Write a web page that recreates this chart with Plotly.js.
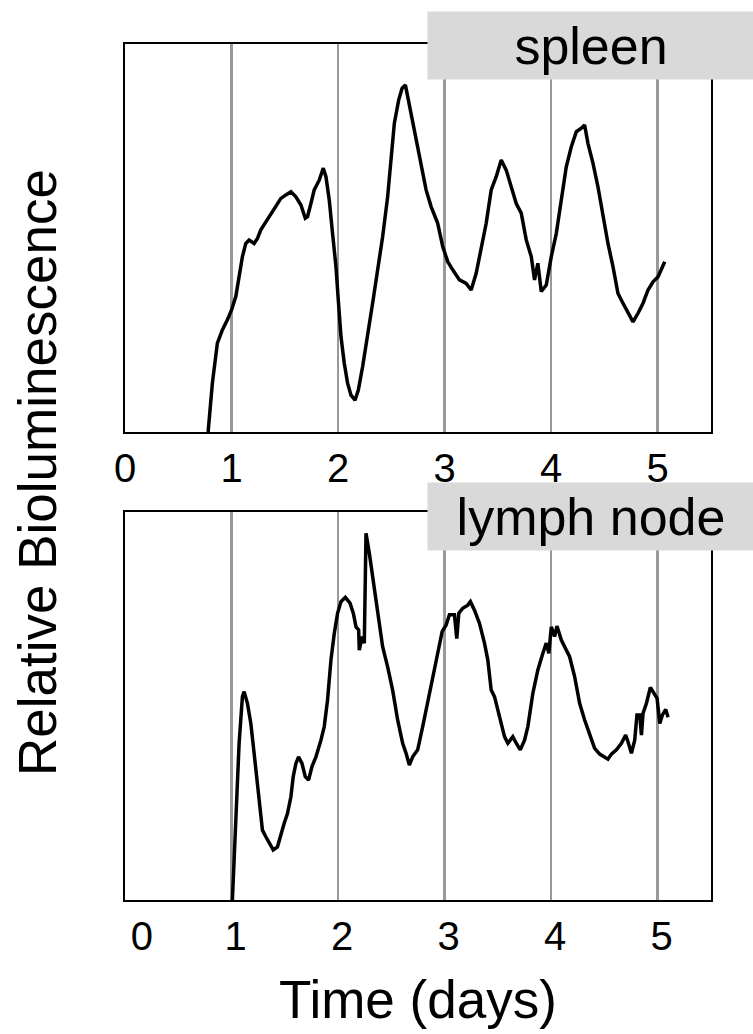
<!DOCTYPE html>
<html>
<head>
<meta charset="utf-8">
<script src="https://cdn.plot.ly/plotly-3.0.1.min.js"></script>
<style>html,body{margin:0;padding:0;background:#fff;}#chart{width:753px;height:1034px;}</style>
</head>
<body>
<div id="chart"></div>
<script>
// Time in days
var spleenTime = [0.780,0.820,0.867,0.914,0.961,0.999,1.040,1.071,1.102,1.134,1.165,1.212,1.243,1.275,1.322,1.369,1.416,1.463,1.510,1.557,1.604,1.651,1.692,1.713,1.745,1.776,1.823,1.861,1.886,1.917,1.948,1.980,2.002,2.027,2.058,2.089,2.121,2.159,2.190,2.230,2.324,2.371,2.418,2.465,2.497,2.528,2.569,2.601,2.632,2.653,2.685,2.732,2.779,2.826,2.873,2.935,2.982,3.029,3.076,3.139,3.202,3.249,3.296,3.343,3.390,3.437,3.484,3.531,3.578,3.625,3.672,3.719,3.766,3.813,3.844,3.875,3.907,3.954,4.001,4.048,4.095,4.142,4.189,4.236,4.283,4.314,4.345,4.392,4.439,4.486,4.533,4.580,4.627,4.674,4.721,4.768,4.815,4.862,4.909,4.956,5.003,5.066];
var spleenLum = [0.000,0.126,0.229,0.263,0.289,0.314,0.349,0.400,0.452,0.486,0.495,0.486,0.499,0.521,0.542,0.564,0.581,0.602,0.611,0.619,0.606,0.585,0.551,0.555,0.589,0.624,0.649,0.680,0.658,0.598,0.512,0.426,0.340,0.246,0.177,0.126,0.095,0.082,0.108,0.168,0.332,0.418,0.503,0.606,0.710,0.796,0.856,0.886,0.894,0.864,0.821,0.761,0.684,0.624,0.581,0.538,0.478,0.439,0.418,0.392,0.383,0.366,0.409,0.469,0.538,0.624,0.658,0.701,0.675,0.632,0.589,0.564,0.495,0.452,0.392,0.435,0.362,0.379,0.452,0.512,0.598,0.684,0.735,0.774,0.783,0.791,0.744,0.693,0.632,0.555,0.486,0.426,0.357,0.332,0.306,0.284,0.306,0.332,0.366,0.387,0.400,0.439];

var lymphTime = [1.008,1.040,1.071,1.102,1.118,1.149,1.181,1.212,1.243,1.275,1.290,1.322,1.353,1.391,1.431,1.463,1.494,1.525,1.557,1.579,1.604,1.629,1.661,1.692,1.723,1.755,1.792,1.839,1.870,1.901,1.933,1.964,1.995,2.027,2.068,2.112,2.143,2.168,2.193,2.199,2.225,2.246,2.262,2.293,2.324,2.340,2.371,2.418,2.465,2.512,2.559,2.606,2.638,2.669,2.700,2.747,2.794,2.841,2.888,2.935,2.977,3.014,3.045,3.092,3.114,3.133,3.170,3.217,3.242,3.280,3.327,3.374,3.405,3.437,3.468,3.515,3.562,3.593,3.640,3.672,3.710,3.750,3.781,3.828,3.875,3.922,3.954,3.978,4.001,4.032,4.054,4.095,4.126,4.173,4.220,4.267,4.314,4.361,4.408,4.455,4.502,4.533,4.565,4.612,4.659,4.699,4.721,4.753,4.784,4.805,4.831,4.847,4.862,4.894,4.931,4.962,4.994,5.019,5.044,5.075,5.097];
var lymphLum = [0.000,0.232,0.404,0.524,0.537,0.507,0.455,0.378,0.301,0.232,0.180,0.163,0.146,0.129,0.137,0.172,0.198,0.223,0.266,0.318,0.352,0.369,0.352,0.318,0.309,0.344,0.369,0.412,0.447,0.515,0.619,0.687,0.739,0.769,0.780,0.765,0.739,0.704,0.696,0.644,0.679,0.662,0.945,0.894,0.833,0.799,0.747,0.653,0.601,0.541,0.464,0.404,0.378,0.348,0.369,0.387,0.447,0.507,0.576,0.636,0.692,0.709,0.735,0.735,0.674,0.739,0.752,0.760,0.769,0.747,0.713,0.662,0.619,0.541,0.524,0.472,0.421,0.404,0.421,0.404,0.387,0.412,0.447,0.533,0.593,0.636,0.662,0.636,0.704,0.679,0.706,0.670,0.653,0.627,0.576,0.507,0.464,0.430,0.391,0.376,0.368,0.363,0.376,0.387,0.404,0.425,0.408,0.378,0.412,0.477,0.477,0.425,0.481,0.507,0.548,0.533,0.520,0.455,0.477,0.491,0.471];

var tickVals = [0,1,2,3,4,5];
var tickValsBottom = [0.12,1,2,3,4,5];
var tickText = ['0','1','2','3','4','5'];
var gridVals = [1,2,3,4,5];
var panelLabels = ['spleen','lymph node'];
var yTitle = 'Relative Bioluminescence';
var xTitle = 'Time (days)';

var FONT = 'Liberation Sans, Arial, sans-serif';
var lineStyle = {color:'#000', width:3.5};

var traces = [
  {x: spleenTime, y: spleenLum, type:'scatter', mode:'lines', line: lineStyle, xaxis:'x', yaxis:'y', hoverinfo:'skip'},
  {x: lymphTime, y: lymphLum, type:'scatter', mode:'lines', line: lineStyle, xaxis:'x2', yaxis:'y2', hoverinfo:'skip'}
];

function xAx(anchor, tv, shift){
  return {
    anchor: anchor, domain:[0,1], range:[0,5.5],
    tickmode:'array', tickvals: tv, ticktext: tickText,
    ticks:'', showgrid:false, zeroline:false,
    ticklabelshift: shift,
    showline:true, mirror:true, linecolor:'#000', linewidth:2,
    tickfont:{family:FONT, size:40, color:'#000'},
    minor:{tickmode:'array', tickvals: gridVals, showgrid:true, gridcolor:'#999', gridwidth:2.5, ticks:''}
  };
}
function yAx(anchor, dom){
  return {
    anchor: anchor, domain: dom, range:[0,1],
    showticklabels:false, ticks:'', showgrid:false, zeroline:false,
    showline:true, mirror:true, linecolor:'#000', linewidth:2
  };
}

var layout = {
  width:753, height:1034,
  margin:{l:125, r:42, t:0, b:0},
  paper_bgcolor:'#fff', plot_bgcolor:'#fff',
  showlegend:false,
  xaxis: xAx('y', tickVals, 0),
  yaxis: yAx('x', [1-432/1034, 1-44/1034]),
  xaxis2: xAx('y2', tickValsBottom, 4),
  yaxis2: yAx('x2', [1-900/1034, 1-512/1034]),
  annotations:[
    {text: panelLabels[0], xref:'paper', yref:'paper', x:(427-125)/586, y:1-11/1034, xanchor:'left', yanchor:'top',
     showarrow:false, bgcolor:'#d9d9d9', width:326, height:67, borderpad:0, align:'center', valign:'middle',
     font:{family:FONT, size:52, color:'#000'}},
    {text: panelLabels[1], xref:'paper', yref:'paper', x:(427-125)/586, y:1-482/1034, xanchor:'left', yanchor:'top',
     showarrow:false, bgcolor:'#d9d9d9', width:326, height:67, borderpad:0, align:'center', valign:'middle',
     font:{family:FONT, size:52, color:'#000'}},
    {text: yTitle, xref:'paper', yref:'paper', x:(38-125)/586, y:1-473/1034, xanchor:'center', yanchor:'middle',
     textangle:-90, showarrow:false, font:{family:FONT, size:53, color:'#000'}},
    {text: xTitle, xref:'paper', yref:'paper', x:(418-125)/586, y:1-999/1034, xanchor:'center', yanchor:'middle',
     showarrow:false, font:{family:FONT, size:53, color:'#000'}}
  ]
};

Plotly.newPlot('chart', traces, layout, {staticPlot:true, displayModeBar:false});
</script>
</body>
</html>
